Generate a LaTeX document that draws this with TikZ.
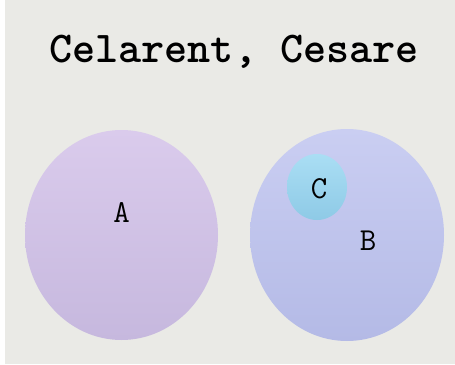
\documentclass[tikz,border=0pt]{standalone}
\usepackage{fontspec}
\newfontfamily\titlefont{lmmonolt10-bold.otf}
\usetikzlibrary{positioning,shapes.geometric}
\definecolor{paper}{RGB}{234,234,230}
\tikzset{
  setA/.style={ellipse,inner sep=0pt,minimum width=193pt,minimum height=210pt,top color={rgb,255:red,218;green,203;blue,236},bottom color={rgb,255:red,198;green,184;blue,222}},
  setB/.style={ellipse,inner sep=0pt,minimum width=194pt,minimum height=212pt,top color={rgb,255:red,202;green,206;blue,242},bottom color={rgb,255:red,180;green,186;blue,230}},
  setC/.style={ellipse,inner sep=0pt,minimum width=60pt,minimum height=66pt,top color={rgb,255:red,170;green,222;blue,244},bottom color={rgb,255:red,142;green,202;blue,230}},
  lbl/.style={font=\ttfamily\fontsize{32}{32}\selectfont,anchor=base,inner sep=0pt},
}

\begin{document}
\begin{tikzpicture}

	\fill[paper] (0pt,0pt) rectangle (455pt,-364pt);
	\fill[white] (0pt,0pt) rectangle (5pt,-364pt);
	\useasboundingbox (0pt,0pt) rectangle (455pt,-364pt);
	\node[anchor=base,inner sep=0pt,font=\titlefont\fontsize{44}{44}\selectfont] at (234pt,-62pt) (title) {Celarent, Cesare};

	\node[setA] at (121.5pt,-235pt) (A) {};
	\node[lbl] at (121.5pt,-222pt) (a) {A};

	\node[setB] at (347pt,-235pt) (B) {};
	\node[lbl] at (368pt,-250pt) (b) {B};
	\node[setC] at (317pt,-187pt) (C) {};
	\node[lbl] at (319pt,-198pt) (c) {C};

\end{tikzpicture}
\end{document}
